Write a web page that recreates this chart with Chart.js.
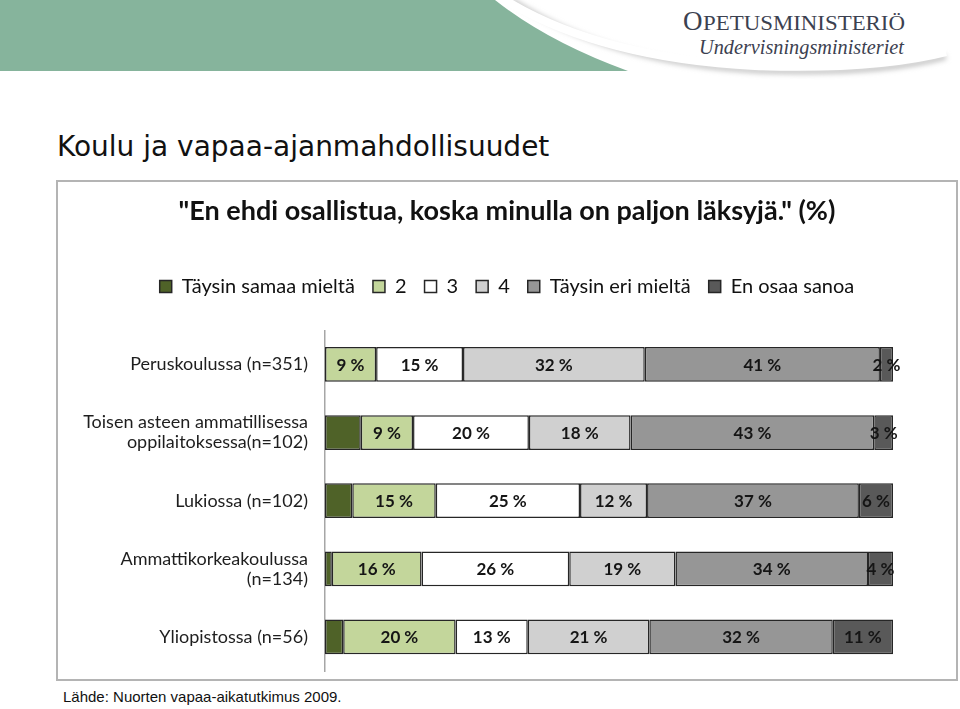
<!DOCTYPE html>
<html>
<head>
<meta charset="utf-8">
<script src="https://cdn.jsdelivr.net/npm/chart.js@4/dist/chart.umd.min.js"></script>
<style>
    body { margin: 0; background: #fff; }
    #page { position: relative; width: 960px; height: 709px; overflow: hidden; background: #fff; }
    #header { position: absolute; left: 0; top: 0; }
    #heading { position: absolute; left: 57px; top: 133px; font: 28px/28px "DejaVu Sans", sans-serif; color: #111; white-space: nowrap; }
    #box { position: absolute; left: 56px; top: 180px; width: 902px; height: 501px; border: 2px solid #b4b4b4; box-sizing: border-box; }
    #wrap { position: absolute; left: 0; top: 0; width: 898px; height: 497px; }
    #source { position: absolute; left: 63px; top: 688px; font: 15px/18px "Liberation Sans", Arial, sans-serif; color: #111; white-space: nowrap; }
</style>
</head>
<body>
<div id="page">
    <svg id="header" width="960" height="90" xmlns="http://www.w3.org/2000/svg">
        <defs>
            <filter id="soft" x="-10%" y="-50%" width="120%" height="200%">
                <feGaussianBlur stdDeviation="2.5"/>
            </filter>
        </defs>
        <path d="M0,0 H495 Q548,42 628,71 H0 Z" fill="#86b49c"/>
        <path d="M512,0 Q610,64 760,71 Q880,75 946,57" fill="none" stroke="#c4c4c4" stroke-width="5" filter="url(#soft)"/>
        <path d="M505,0 Q600,58 755,66 Q875,70 946,52" fill="none" stroke="#ffffff" stroke-width="8"/>
        <text x="683" y="30" font-family="Liberation Serif, serif" font-size="27" fill="#3c4150">O</text>
        <text x="703" y="30" font-family="Liberation Serif, serif" font-size="20" fill="#3c4150" textLength="202" lengthAdjust="spacingAndGlyphs">PETUSMINISTERIÖ</text>
        <text x="699" y="54" font-family="Liberation Serif, serif" font-style="italic" font-size="21" fill="#3c4150" textLength="205" lengthAdjust="spacingAndGlyphs">Undervisningsministeriet</text>
    </svg>
    <div id="heading">Koulu ja vapaa-ajanmahdollisuudet</div>
    <div id="box"><div id="wrap"><canvas id="kouluChart"></canvas></div></div>
    <div id="source">Lähde: Nuorten vapaa-aikatutkimus 2009.</div>
</div>

<script>
// rivit (oppilaitokset)
const categories = [
    "Peruskoulussa (n=351)",
    ["Toisen asteen ammatillisessa", "oppilaitoksessa(n=102)"],
    "Lukiossa (n=102)",
    ["Ammattikorkeakoulussa", "(n=134)"],
    "Yliopistossa (n=56)"
];

const seriesNames = ["Täysin samaa mieltä", "2", "3", "4", "Täysin eri mieltä", "En osaa sanoa"];

// prosentit, luettu kuvasta
const taysinSamaa = [0, 6.3, 4.8, 1.2, 3.2];
const vastaus2 = [9.0, 9.2, 14.7, 15.8, 19.8];
const vastaus3 = [15.3, 20.4, 25.4, 26.0, 12.7];
const vastaus4 = [32.0, 17.9, 11.8, 18.7, 21.4];
const taysinEri = [41.4, 42.9, 37.3, 33.9, 32.3];
const enOsaa = [2.3, 3.3, 6.0, 4.4, 10.6];

const colors = ["#4f6228", "#c3d69b", "#ffffff", "#d0d0d0", "#969696", "#595959"];
const allSeries = [taysinSamaa, vastaus2, vastaus3, vastaus4, taysinEri, enOsaa];

// prosenttiluvut palkkien keskelle (ei ensimmäiselle sarjalle)
const barLabels = {
    id: "barLabels",
    afterDatasetsDraw(chart) {
        const ctx = chart.ctx;
        ctx.save();
        ctx.font = "bold 17px Lato, sans-serif";
        ctx.fillStyle = "#151515";
        ctx.textAlign = "center";
        ctx.textBaseline = "middle";
        for (let i = 1; i < chart.data.datasets.length; i++) {
            const meta = chart.getDatasetMeta(i);
            meta.data.forEach(function (bar, j) {
                const v = chart.data.datasets[i].data[j];
                if (!v) return;
                const p = bar.getCenterPoint();
                ctx.fillText(Math.round(v) + " %", p.x, p.y + 1);
            });
        }
        ctx.restore();
    }
};

// lisää tilaa selitteen alle
const legendGap = {
    id: "legendGap",
    beforeInit(chart) {
        const fit = chart.legend.fit;
        chart.legend.fit = function () {
            fit.bind(chart.legend)();
            this.height += 24;
        };
    }
};

new Chart(document.getElementById("kouluChart"), {
    type: "bar",
    data: {
        labels: categories,
        datasets: seriesNames.map(function (name, i) {
            return {
                label: name,
                data: allSeries[i],
                backgroundColor: colors[i],
                borderColor: "#262626",
                borderWidth: 1.5,
                borderSkipped: false,
                barPercentage: 0.51,
                categoryPercentage: 1
            };
        })
    },
    options: {
        indexAxis: "y",
        responsive: true,
        maintainAspectRatio: false,
        animation: false,
        layout: { padding: { left: 0, right: 0, top: 0, bottom: 8 } },
        scales: {
            x: { stacked: true, min: 0, max: 100, display: false },
            y: {
                stacked: true,
                grid: { display: false, drawTicks: false },
                border: { display: true, color: "#a6a6a6", width: 1.5 },
                ticks: {
                    padding: 17,
                    color: "#1e1e1e",
                    font: { family: "Lato", size: 18, lineHeight: 1.12 }
                },
                afterFit: function (scale) {
                    scale.width = 267;
                    scale.paddingTop = 0;
                    scale.paddingBottom = 0;
                }
            },
            // tyhjä oikea akseli pitää palkit irti laidasta
            yRight: {
                type: "category",
                position: "right",
                grid: { display: false, drawTicks: false },
                border: { display: false },
                ticks: { display: false },
                afterFit: function (scale) {
                    scale.width = 63;
                    scale.paddingTop = 0;
                    scale.paddingBottom = 0;
                }
            }
        },
        plugins: {
            title: {
                display: true,
                text: '"En ehdi osallistua, koska minulla on paljon läksyjä." (%)',
                color: "#111",
                font: { family: "Lato", size: 27, weight: "bold" },
                padding: { top: 13, bottom: 31 }
            },
            legend: {
                display: true,
                position: "top",
                labels: {
                    color: "#111",
                    font: { family: "Lato", size: 20 },
                    boxWidth: 12,
                    boxHeight: 12,
                    padding: 18
                }
            },
            tooltip: { enabled: false }
        }
    },
    plugins: [barLabels, legendGap]
});
</script>
</body>
</html>
